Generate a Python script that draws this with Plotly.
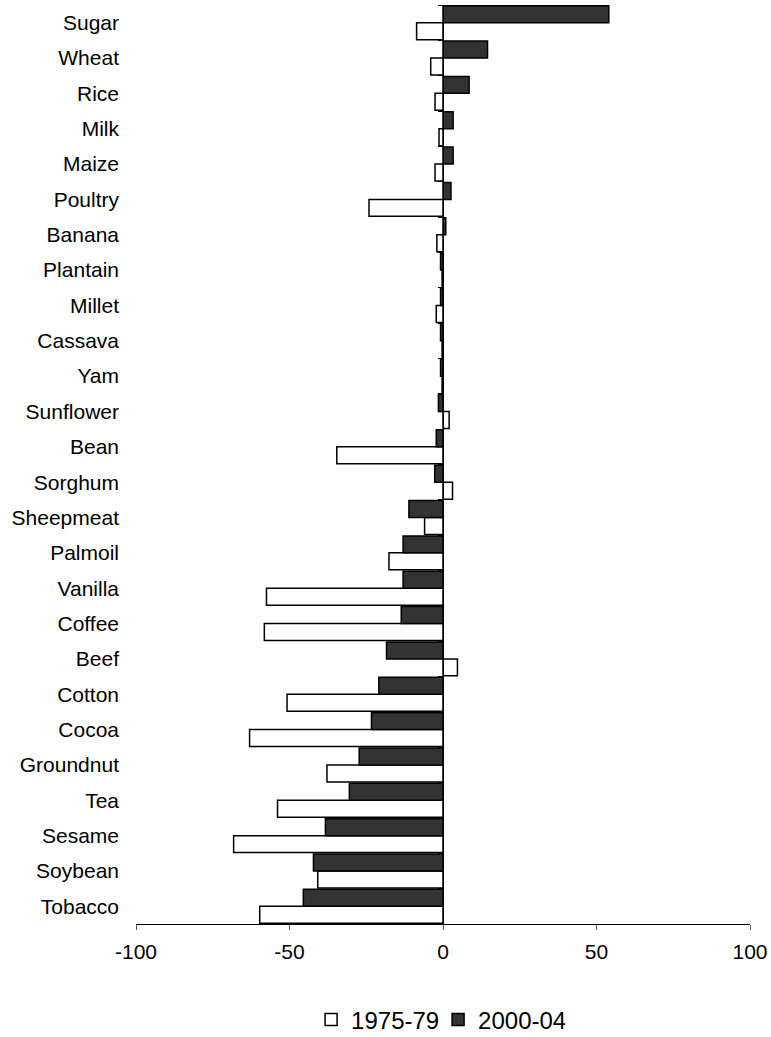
import plotly.graph_objects as go

categories = ["Sugar", "Wheat", "Rice", "Milk", "Maize", "Poultry", "Banana", "Plantain",
              "Millet", "Cassava", "Yam", "Sunflower", "Bean", "Sorghum", "Sheepmeat",
              "Palmoil", "Vanilla", "Coffee", "Beef", "Cotton", "Cocoa", "Groundnut",
              "Tea", "Sesame", "Soybean", "Tobacco"]
v1975 = [-8.6, -4.0, -2.6, -1.3, -2.6, -24.1, -2.0, -0.3,
         -2.2, -0.3, -0.3, 2.0, -34.6, 3.1, -6.0,
         -17.6, -57.5, -58.2, 4.7, -50.8, -63.0, -37.8,
         -53.9, -68.2, -40.8, -59.7]
v2000 = [54.0, 14.5, 8.5, 3.3, 3.3, 2.6, 0.9, -0.8,
         -0.8, -0.8, -0.8, -1.5, -2.2, -2.7, -11.1,
         -13.0, -13.0, -13.6, -18.4, -20.9, -23.3, -27.3,
         -30.5, -38.3, -42.2, -45.5]
series_names = ["1975-79", "2000-04"]
x_ticks = [-100, -50, 0, 50, 100]
x_tick_text = ["-100", "-50", "0", "50", "100"]

FONT = "Liberation Sans, Arial, sans-serif"
order = categories[::-1]

fig = go.Figure()
fig.add_trace(go.Bar(y=categories, x=v1975, orientation="h", name=series_names[0],
                     marker=dict(color="white", line=dict(color="black", width=1.5))))
fig.add_trace(go.Bar(y=categories, x=v2000, orientation="h", name=series_names[1],
                     marker=dict(color="#333333", line=dict(color="black", width=1.5))))
# invisible helper trace so the zero-positioned category axis gets its boundary ticks
fig.add_trace(go.Scatter(y=categories, x=[0] * len(categories), mode="markers",
                         marker=dict(opacity=0), showlegend=False, hoverinfo="skip",
                         yaxis="y2"))

fig.update_layout(
    width=771, height=1037,
    margin=dict(l=136, r=21, t=5, b=113, autoexpand=False),
    paper_bgcolor="white", plot_bgcolor="white",
    barmode="group", bargap=0.04, bargroupgap=0,
    font=dict(family=FONT, size=21, color="black"),
    xaxis=dict(range=[-100, 100], tickvals=x_ticks, ticktext=x_tick_text,
               showgrid=False, zeroline=False, automargin=False,
               showline=True, linecolor="black", linewidth=1,
               ticks="outside", ticklen=5, tickcolor="#555555",
               ticklabelstandoff=4, tickfont=dict(size=21)),
    yaxis=dict(type="category", categoryorder="array", categoryarray=order,
               range=[-0.5, len(categories) - 0.5], automargin=False,
               showgrid=False, zeroline=False, showline=False, ticks="",
               ticklabelstandoff=16, tickfont=dict(size=21)),
    yaxis2=dict(type="category", categoryorder="array", categoryarray=order,
                range=[-0.5, len(categories) - 0.5], automargin=False,
                overlaying="y", anchor="free", position=0.5, side="left",
                showgrid=False, zeroline=False, showline=True, linecolor="black",
                linewidth=1, ticks="outside", ticklen=5, tickcolor="black",
                tickson="boundaries", showticklabels=False),
    legend=dict(orientation="h", x=0.492, xanchor="center",
                yref="container", y=(1037 - 1020) / 1037, yanchor="middle",
                font=dict(size=24), traceorder="normal",
                entrywidth=82, entrywidthmode="pixels", itemwidth=30),
    showlegend=True,
)

fig.write_html(
    "out.html",
    config={"displayModeBar": False},
    post_script=("document.documentElement.style.margin='0px';"
                 "document.body.style.margin='0px';"
                 "document.documentElement.style.overflow='hidden';"
                 "document.body.style.overflow='hidden';"),
)
